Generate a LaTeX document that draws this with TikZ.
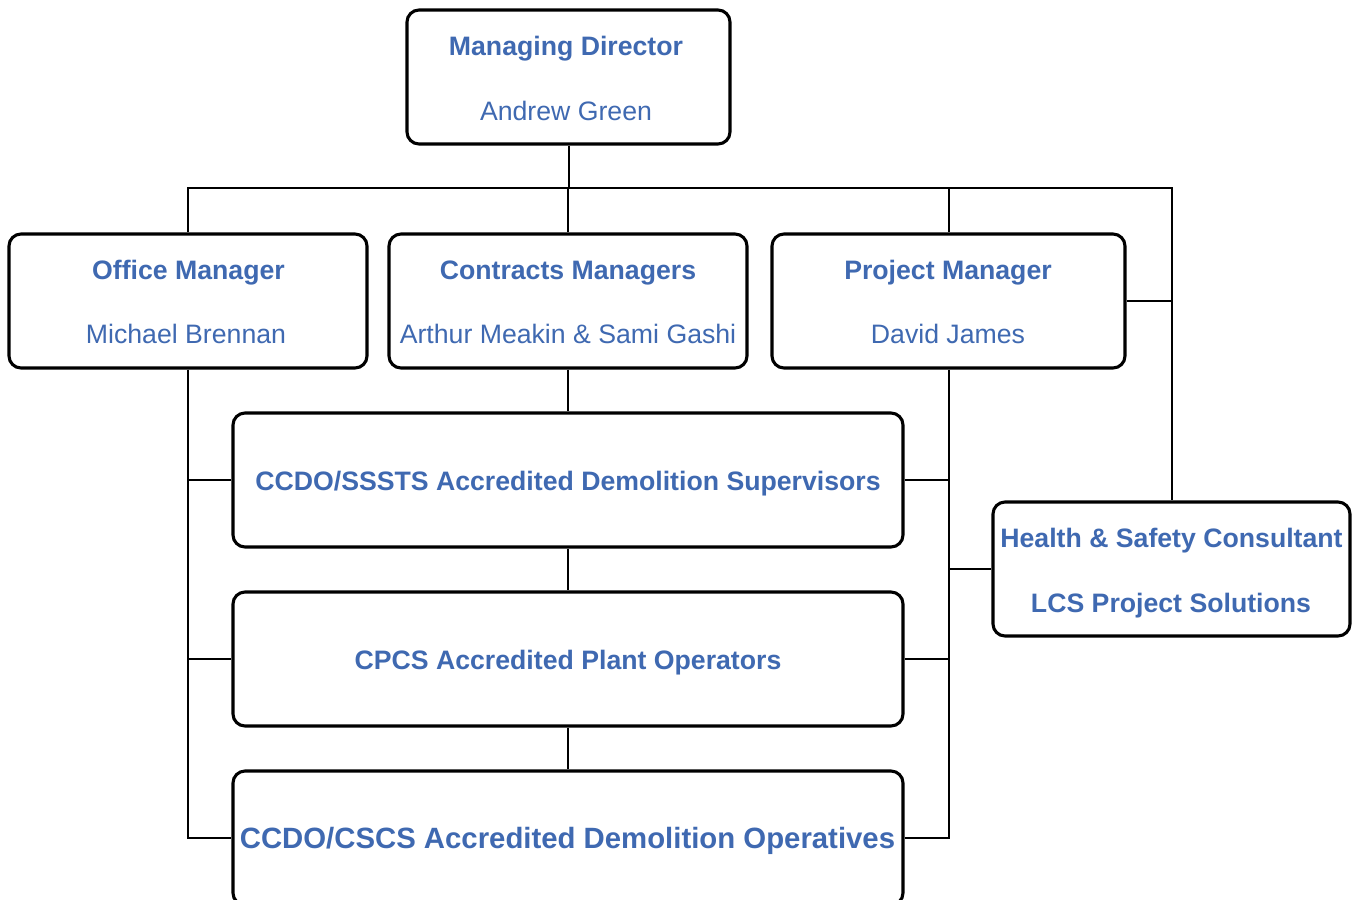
\documentclass[tikz,border=0pt]{standalone}
\usepackage{fontspec}
\setmainfont{Liberation Sans}
\usetikzlibrary{fit}
\definecolor{txtblue}{HTML}{3F69B1}
\tikzset{
  box/.style={draw=black, line width=2.3pt, rounded corners=9pt, inner sep=0pt, fill=white},
  conn/.style={draw=black, line width=1.5pt},
  hd/.style={anchor=base, inner sep=0pt, text=txtblue, font=\fontsize{20}{24}\selectfont\bfseries},
  nm/.style={anchor=base, inner sep=0pt, text=txtblue, font=\fontsize{20}{24}\selectfont},
  big/.style={anchor=base, inner sep=0pt, text=txtblue, font=\fontsize{22}{26}\selectfont\bfseries}
}
\begin{document}
\begin{tikzpicture}[x=0.75pt, y=-0.75pt]
\useasboundingbox (0,0) rectangle (1354,900);
\clip (0,0) rectangle (1354,900);
% boxes
\node[box, fit={(407,10) (730,144)}] (md) {};
\node[box, fit={(9,234) (367,368)}] (om) {};
\node[box, fit={(389,234) (747,368)}] (cm) {};
\node[box, fit={(772,234) (1125,368)}] (pm) {};
\node[box, fit={(233,413) (903,547)}] (sup) {};
\node[box, fit={(233,592) (903,726)}] (plant) {};
\node[box, fit={(233,771) (903,905)}] (ops) {};
\node[box, fit={(993,502) (1350,636)}] (hs) {};
% connectors
\coordinate (busL) at (188,188);
\draw[conn] (md.south) -- (md.south |- busL);
\draw[conn] (om.north) -- (om.north |- busL) -| (hs.north);
\draw[conn] (cm.north) -- (cm.north |- busL);
\draw[conn] (pm.north) -- (pm.north |- busL);
\draw[conn] (pm.east) -- (pm.east -| hs.north);
\draw[conn] (om.south) -- (om.south |- ops.west) -- (ops.west);
\draw[conn] (om.south |- sup.west) -- (sup.west);
\draw[conn] (om.south |- plant.west) -- (plant.west);
\draw[conn] (cm.south) -- (sup.north);
\draw[conn] (sup.south) -- (plant.north);
\draw[conn] (plant.south) -- (ops.north);
\draw[conn] (pm.south) -- (pm.south |- ops.east) -- (ops.east);
\draw[conn] (pm.south |- sup.east) -- (sup.east);
\draw[conn] (pm.south |- plant.east) -- (plant.east);
\draw[conn] (pm.south |- hs.west) -- (hs.west);
% texts
\node[hd] (mdT) at (566,55) {Managing Director};
\node[nm] (mdN) at (566,120) {Andrew Green};
\node[hd] (omT) at (188.5,279) {Office Manager};
\node[nm] (omN) at (186,343) {Michael Brennan};
\node[hd] (cmT) at (568,279) {Contracts Managers};
\node[nm] (cmN) at (568,343) {Arthur Meakin \& Sami Gashi};
\node[hd] (pmT) at (948,279) {Project Manager};
\node[nm] (pmN) at (948,343) {David James};
\node[hd] (supT) at (568,490) {CCDO/SSSTS Accredited Demolition Supervisors};
\node[hd] (plantT) at (568,669) {CPCS Accredited Plant Operators};
\node[big] (opsT) at (567.5,848) {CCDO/CSCS Accredited Demolition Operatives};
\node[hd] (hsT) at (1171.5,547) {Health \& Safety Consultant};
\node[hd] (hsN) at (1171,612) {LCS Project Solutions};
\end{tikzpicture}
\end{document}
